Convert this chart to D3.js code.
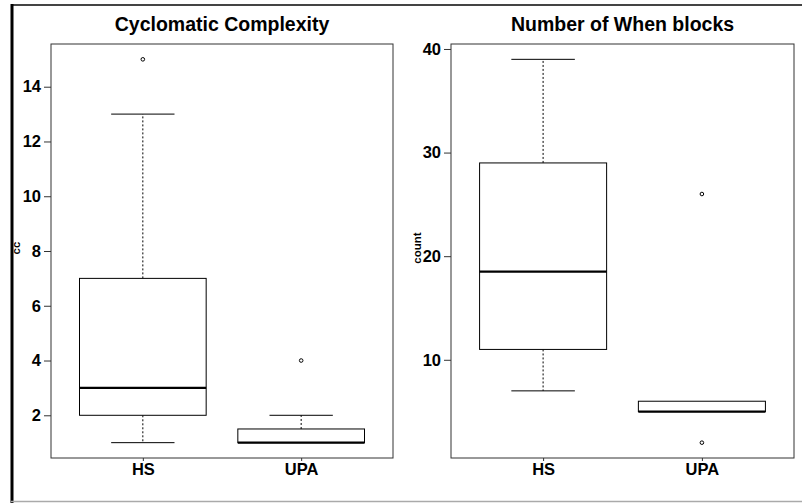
<!DOCTYPE html>
<html>
<head>
<meta charset="utf-8">
<script src="https://cdn.jsdelivr.net/npm/d3@7"></script>
<style>
  html, body { margin: 0; padding: 0; background: #fff; }
  svg { display: block; font-family: "Liberation Sans", Arial, sans-serif; }
</style>
</head>
<body>
<svg id="chart" width="802" height="503"></svg>
<script>
// ---- data ----
const categories = ["HS", "UPA"];

const ccTitle = "Cyclomatic Complexity";
const ccYLabel = "cc";
const ccLow = [1, 1];
const ccQ1 = [2, 1];
const ccMedian = [3, 1];
const ccQ3 = [7, 1.5];
const ccHigh = [13, 2];
const ccOutliers = [[15], [4]];
const ccTicks = [2, 4, 6, 8, 10, 12, 14];

const whenTitle = "Number of When blocks";
const whenYLabel = "count";
const whenLow = [7, 5];
const whenQ1 = [11, 5];
const whenMedian = [18.5, 5];
const whenQ3 = [29, 6];
const whenHigh = [39, 6];
const whenOutliers = [[], [26, 2]];
const whenTicks = [10, 20, 30, 40];

// ---- drawing ----
const svg = d3.select("#chart");

// outer frame
svg.append("line").attr("x1", 11).attr("x2", 802).attr("y1", 5).attr("y2", 5)
  .attr("stroke", "#444").attr("stroke-width", 2);
svg.append("line").attr("x1", 12).attr("x2", 12).attr("y1", 4).attr("y2", 503)
  .attr("stroke", "#000").attr("stroke-width", 3);
svg.append("line").attr("x1", 11).attr("x2", 802).attr("y1", 501.5).attr("y2", 501.5)
  .attr("stroke", "#aaa").attr("stroke-width", 1.5);

function panel(opts) {
  const { x0, x1, y0, y1, title, ylabel, low, q1, med, q3, high, outliers, ticks, ylabX } = opts;
  const g = svg.append("g");
  const allVals = low.concat(high, d3.merge(outliers));
  const mn = d3.min(allVals), mx = d3.max(allVals);
  const pad = (mx - mn) * 0.04;
  const y = d3.scaleLinear().domain([mn - pad, mx + pad]).range([y1, y0]);
  const x = d3.scaleLinear().domain([0.42, categories.length + 0.58]).range([x0, x1]);
  const boxW = 0.8, capW = 0.4;

  // plot border
  g.append("rect").attr("x", x0).attr("y", y0).attr("width", x1 - x0).attr("height", y1 - y0)
    .attr("fill", "#fff").attr("stroke", "#333").attr("stroke-width", 1);

  // y axis
  const yAxis = d3.axisLeft(y).tickValues(ticks).tickSize(7).tickPadding(3).tickFormat(d3.format("d"));
  const ya = g.append("g").attr("transform", `translate(${x0},0)`).call(yAxis);
  ya.select(".domain").remove();
  ya.selectAll(".tick line").attr("stroke", "#333");
  ya.selectAll(".tick text").attr("font-size", 16.5).attr("font-weight", "bold")
    .attr("fill", "#000").attr("font-family", "Liberation Sans, Arial, sans-serif");

  // x axis
  const xAxis = d3.axisBottom(x).tickValues(categories.map((c, i) => i + 1))
    .tickFormat((d) => categories[d - 1]).tickSize(3).tickPadding(2);
  const xa = g.append("g").attr("transform", `translate(0,${y1})`).call(xAxis);
  xa.select(".domain").remove();
  xa.selectAll(".tick line").attr("stroke", "#333");
  xa.selectAll(".tick text").attr("font-size", 16.5).attr("font-weight", "bold")
    .attr("fill", "#000").attr("font-family", "Liberation Sans, Arial, sans-serif");

  // boxes
  categories.forEach((c, i) => {
    const cx = x(i + 1);
    const bl = x(i + 1 - boxW / 2), br = x(i + 1 + boxW / 2);
    const cl = x(i + 1 - capW / 2), cr = x(i + 1 + capW / 2);
    if (high[i] > q3[i]) {
      g.append("line").attr("x1", cx).attr("x2", cx).attr("y1", y(q3[i])).attr("y2", y(high[i]))
        .attr("stroke", "#000").attr("stroke-dasharray", "2,2");
      g.append("line").attr("x1", cl).attr("x2", cr).attr("y1", y(high[i])).attr("y2", y(high[i]))
        .attr("stroke", "#000");
    }
    if (low[i] < q1[i]) {
      g.append("line").attr("x1", cx).attr("x2", cx).attr("y1", y(q1[i])).attr("y2", y(low[i]))
        .attr("stroke", "#000").attr("stroke-dasharray", "2,2");
      g.append("line").attr("x1", cl).attr("x2", cr).attr("y1", y(low[i])).attr("y2", y(low[i]))
        .attr("stroke", "#000");
    }
    g.append("rect").attr("x", bl).attr("y", y(q3[i])).attr("width", br - bl)
      .attr("height", y(q1[i]) - y(q3[i])).attr("fill", "#fff").attr("stroke", "#000").attr("stroke-width", 1);
    g.append("line").attr("x1", bl).attr("x2", br).attr("y1", y(med[i])).attr("y2", y(med[i]))
      .attr("stroke", "#000").attr("stroke-width", 2.2);
    outliers[i].forEach((v) => {
      g.append("circle").attr("cx", cx).attr("cy", y(v)).attr("r", 1.8)
        .attr("fill", "none").attr("stroke", "#000").attr("stroke-width", 1);
    });
  });

  // title
  g.append("text").attr("x", (x0 + x1) / 2).attr("y", 31).attr("text-anchor", "middle")
    .attr("font-size", 19.5).attr("font-weight", "bold").attr("fill", "#000").text(title);

  // y label
  g.append("text").attr("transform", `translate(${ylabX},${(y0 + y1) / 2 - 3}) rotate(-90)`)
    .attr("text-anchor", "middle").attr("font-size", 11.5).attr("font-weight", "bold")
    .attr("fill", "#000").text(ylabel);
}

panel({ x0: 51, x1: 393, y0: 44, y1: 458, title: ccTitle, ylabel: ccYLabel,
  low: ccLow, q1: ccQ1, med: ccMedian, q3: ccQ3, high: ccHigh, outliers: ccOutliers, ticks: ccTicks, ylabX: 20 });
panel({ x0: 451, x1: 794, y0: 44, y1: 458, title: whenTitle, ylabel: whenYLabel,
  low: whenLow, q1: whenQ1, med: whenMedian, q3: whenQ3, high: whenHigh, outliers: whenOutliers, ticks: whenTicks, ylabX: 421 });
</script>
</body>
</html>
